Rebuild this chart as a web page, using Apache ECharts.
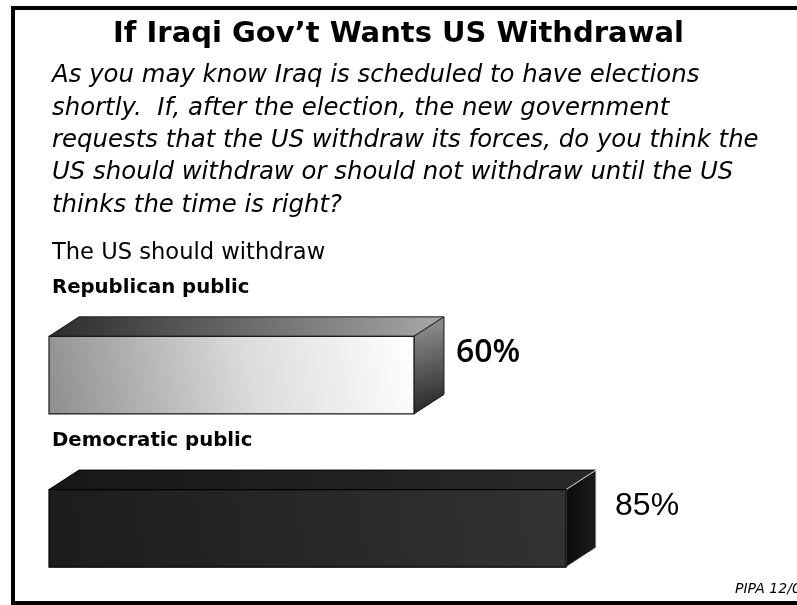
<!DOCTYPE html>
<html>
<head>
<meta charset="utf-8">
<title>If Iraqi Gov't Wants US Withdrawal</title>
<script src="https://cdn.jsdelivr.net/npm/echarts@6/dist/echarts.min.js"></script>
<style>
  html, body { margin: 0; padding: 0; background: #ffffff; }
  #chart { width: 797px; height: 605px; }
</style>
</head>
<body>
<div id="chart"></div>
<script>
// Survey data: share saying the US should withdraw if the new Iraqi government asks
const categories = ['Republican public', 'Democratic public'];
const values = [60, 85];
const valueLabels = ['60%', '85%'];

const titleText = "If Iraqi Gov\u2019t Wants US Withdrawal";
const questionLines = [
  'As you may know Iraq is scheduled to have elections',
  'shortly.  If, after the election, the new government',
  'requests that the US withdraw its forces, do you think the',
  'US should withdraw or should not withdraw until the US',
  'thinks the time is right?'
];
const measureText = 'The US should withdraw';
const sourceText = 'PIPA 12/04';

// Appearance of each 3D bar (front / top / side faces)
const G = echarts.graphic;
const barLooks = [
  {
    front: new G.LinearGradient(0, 1, 1, 0, [
      { offset: 0, color: '#8e8e8e' }, { offset: 0.55, color: '#dcdcdc' }, { offset: 1, color: '#ffffff' }
    ]),
    top: new G.LinearGradient(0, 0, 1, 0, [
      { offset: 0, color: '#2c2c2c' }, { offset: 1, color: '#a8a8a8' }
    ]),
    side: new G.LinearGradient(0, 0, 1, 1, [
      { offset: 0, color: '#9a9a9a' }, { offset: 1, color: '#1e1e1e' }
    ]),
    edge: '#1a1a1a', sideEdge: '#1a1a1a',
    label: { font: '600 32px "Open Sans"', dx: 42 }
  },
  {
    front: new G.LinearGradient(0, 1, 1, 0, [
      { offset: 0, color: '#1c1c1c' }, { offset: 1, color: '#333333' }
    ]),
    top: new G.LinearGradient(0, 0, 1, 0, [
      { offset: 0, color: '#171717' }, { offset: 1, color: '#2a2a2a' }
    ]),
    side: new G.LinearGradient(0, 0, 1, 0, [
      { offset: 0, color: '#0c0c0c' }, { offset: 1, color: '#1c1c1c' }
    ]),
    edge: '#000000', sideEdge: '#e8e8e8',
    label: { font: '32px "Liberation Sans"', dx: 49 }
  }
];

const DEPTH_X = 30;       // horizontal offset of the back edges
const DEPTH_Y = 19.5;     // vertical offset of the back edges
const FACE_RATIO = 0.506; // front face height as a share of the category band

function renderBar(params, api) {
  const idx = api.value(1);
  const v = api.value(0);
  const look = barLooks[idx];
  const x0 = api.coord([0, idx])[0];
  const p = api.coord([v, idx]);
  const x1 = p[0], yc = p[1];
  const band = api.size([0, 1])[1];
  const h = band * FACE_RATIO;
  const yT = yc - h / 2, yB = yc + h / 2;
  const dx = DEPTH_X, dy = DEPTH_Y;

  return {
    type: 'group',
    children: [
      {
        type: 'polygon',
        shape: { points: [[x0, yT], [x0 + dx, yT - dy], [x1 + dx, yT - dy], [x1, yT]] },
        style: { fill: look.top, stroke: look.edge, lineWidth: 1 }
      },
      {
        type: 'polygon',
        shape: { points: [[x1, yT], [x1 + dx, yT - dy], [x1 + dx, yB - dy], [x1, yB]] },
        style: { fill: look.side, stroke: look.sideEdge, lineWidth: 1 }
      },
      {
        type: 'rect',
        shape: { x: x0, y: yT, width: x1 - x0, height: h },
        style: { fill: look.front, stroke: look.edge, lineWidth: 1.2 }
      },
      {
        type: 'text',
        x: 52, y: yc - 87.5,
        style: {
          text: categories[idx],
          font: 'bold 19.7px "DejaVu Sans"',
          fill: '#000', textAlign: 'left', textVerticalAlign: 'middle'
        }
      },
      {
        type: 'text',
        x: x1 + look.label.dx, y: yc - 22,
        style: {
          text: valueLabels[idx], font: look.label.font,
          fill: '#000', textAlign: 'left', textVerticalAlign: 'middle'
        }
      }
    ]
  };
}

const chart = echarts.init(document.getElementById('chart'), null, { renderer: 'canvas' });
chart.setOption({
  animation: false,
  backgroundColor: '#ffffff',
  title: [
    {
      text: titleText, left: 'center', top: 20, padding: 0,
      textStyle: { fontFamily: 'DejaVu Sans', fontWeight: 'bold', fontSize: 29, color: '#000' }
    },
    {
      text: questionLines.join('\n'), left: 52, top: 60, padding: 0,
      textStyle: { fontFamily: 'DejaVu Sans', fontStyle: 'italic', fontWeight: 'normal', fontSize: 24.4, lineHeight: 32.3, color: '#000' }
    },
    {
      text: measureText, left: 52, top: 242, padding: 0,
      textStyle: { fontFamily: 'DejaVu Sans', fontWeight: 'normal', fontSize: 22.6, color: '#000' }
    }
  ],
  grid: { left: 49, top: 298.5, width: 608.3, height: 312 },
  xAxis: { type: 'value', min: 0, max: 100, show: false },
  yAxis: { type: 'category', data: categories, inverse: true, show: false },
  series: [{
    type: 'custom',
    renderItem: renderBar,
    encode: { x: 0, y: 1 },
    data: values.map((v, i) => [v, i]),
    clip: false
  }],
  graphic: [
    {
      type: 'rect', silent: true,
      shape: { x: 13, y: 8, width: 820, height: 595 },
      style: { fill: null, stroke: '#000', lineWidth: 4 }
    },
    {
      type: 'text', x: 735, y: 596,
      style: { text: sourceText, font: 'italic 14px "DejaVu Sans"', fill: '#000', textAlign: 'left', textVerticalAlign: 'bottom' }
    }
  ]
});
</script>
</body>
</html>
